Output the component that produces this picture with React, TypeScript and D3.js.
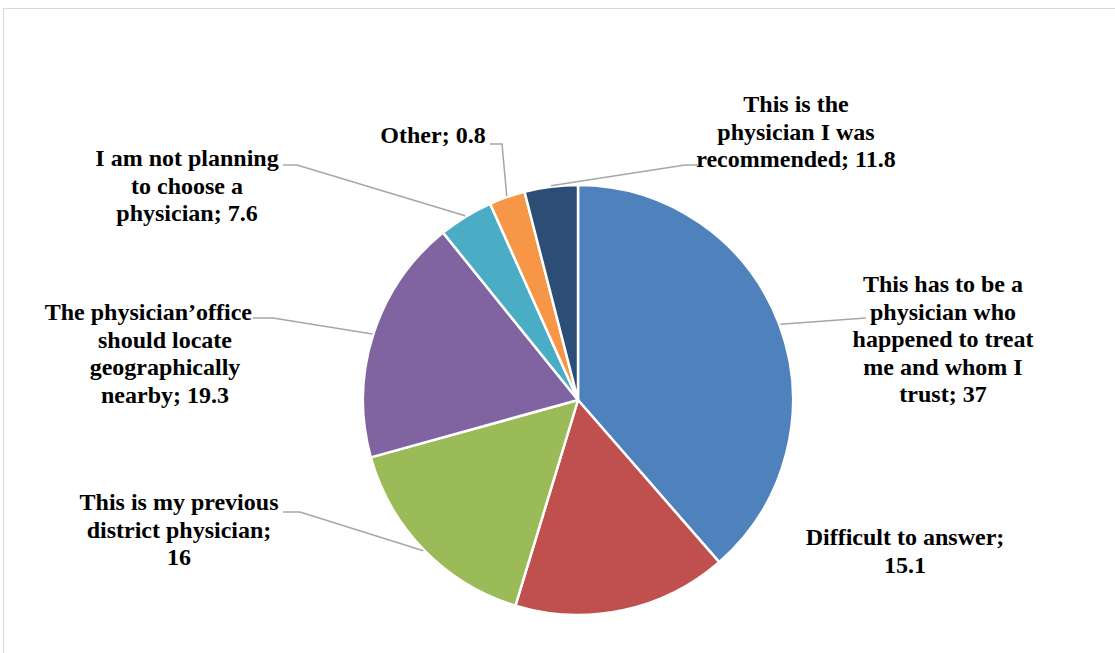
import React from "react";
import * as d3 from "d3";

const categories = [
  "This has to be a physician who happened to treat me and whom I trust",
  "Difficult to answer",
  "This is my previous district physician",
  "The physician’office should locate geographically nearby",
  "I am not planning to choose a physician",
  "Other",
  "This is the physician I was recommended",
];
// slice sizes as drawn (share of the circle, %)
const sliceValues = [38.6, 16.1, 16.0, 18.5, 4.1, 2.7, 4.0];
// values printed in the data labels
const labelValues = ["37", "15.1", "16", "19.3", "7.6", "0.8", "11.8"];
const labelLines = [
  ["This has to be a", "physician who", "happened to treat", "me and whom I", "trust; 37"],
  ["Difficult to answer;", "15.1"],
  ["This is my previous", "district physician;", "16"],
  ["The physician’office", "should locate", "geographically", "nearby; 19.3"],
  ["I am not planning", "to choose a", "physician; 7.6"],
  ["Other; 0.8"],
  ["This is the", "physician I was", "recommended; 11.8"],
];
const colors = ["#4f81bd", "#c0504d", "#9bbb59", "#8064a2", "#4bacc6", "#f79646", "#2c4d75"];

// layout of labels (center x, first baseline) and leader elbows
const labelLayout = [
  { x: 943, y: 292, leader: [[866, 318]], firstEnd: null },
  { x: 905, y: 545, leader: null, firstEnd: null },
  { x: 179, y: 510, leader: [[283, 512], [300, 512]], firstEnd: null },
  { x: 165, y: 320, leader: [[253, 318], [273, 318]], firstEnd: 252 },
  { x: 187, y: 166, leader: [[283, 165], [297, 165]], firstEnd: null },
  { x: 433, y: 143, leader: [[490, 144], [502, 144]], firstEnd: null },
  { x: 796, y: 112, leader: [[698, 165], [685, 165]], firstEnd: null },
];

const W = 1115;
const H = 653;
const CX = 578;
const CY = 400;
const R = 215;
const LINE_H = 27.6;

export default function App() {
  const pie = d3
    .pie<number>()
    .sort(null)
    .value((d) => d)(sliceValues);
  const arc = d3.arc<d3.PieArcDatum<number>>().innerRadius(0).outerRadius(R);

  return (
    <svg
      width={W}
      height={H}
      style={{ position: "absolute", left: 0, top: 0, background: "#fff" }}
    >
      <rect x={3.5} y={8.5} width={W + 10} height={H + 10} fill="#fff" stroke="#d9d9d9" strokeWidth={1} />
      <g transform={`translate(${CX},${CY})`}>
        {pie.map((p, i) => (
          <path key={i} d={arc(p) || ""} fill={colors[i]} stroke="#fff" strokeWidth={2.5} strokeLinejoin="round" />
        ))}
      </g>
      {pie.map((p, i) => {
        const lay = labelLayout[i];
        if (!lay.leader) return null;
        const mid = (p.startAngle + p.endAngle) / 2;
        const px = CX + Math.sin(mid) * (R + 1);
        const py = CY - Math.cos(mid) * (R + 1);
        const pts = [...lay.leader, [px, py]];
        const line = d3.line()(pts as [number, number][]);
        return <path key={"l" + i} d={line || ""} fill="none" stroke="#a6a6a6" strokeWidth={1.5} />;
      })}
      {labelLines.map((lines, i) => {
        const lay = labelLayout[i];
        return (
          <text
            key={"t" + i}
            fontFamily="'Liberation Serif', 'Times New Roman', serif"
            fontWeight="bold"
            fontSize={24}
            fill="#000"
          >
            {lines.map((ln, j) =>
              j === 0 && lay.firstEnd ? (
                <tspan key={j} x={lay.firstEnd} y={lay.y} textAnchor="end">
                  {ln}
                </tspan>
              ) : (
                <tspan key={j} x={lay.x} y={lay.y + j * LINE_H} textAnchor="middle">
                  {ln}
                </tspan>
              )
            )}
          </text>
        );
      })}
    </svg>
  );
}
